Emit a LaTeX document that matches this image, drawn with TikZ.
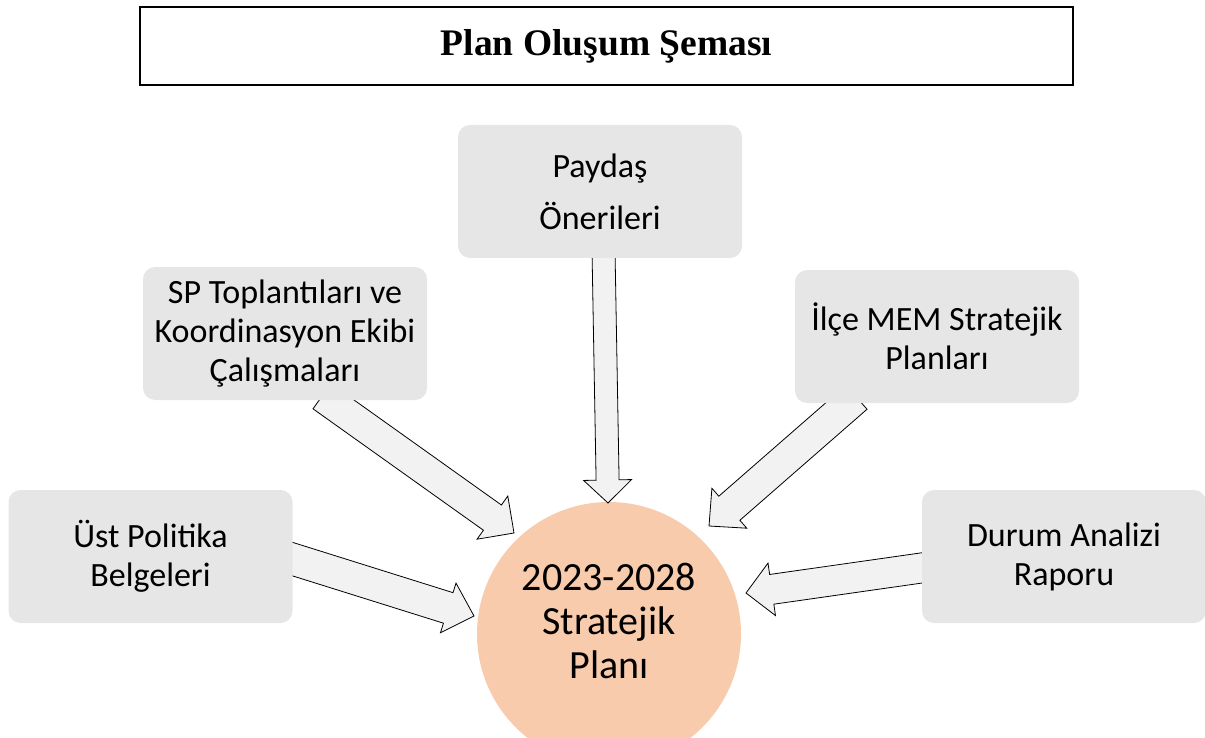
\documentclass[tikz,border=0pt]{standalone}
\usepackage{fontspec}
\setmainfont{Carlito}
\newfontfamily\titlefont{Liberation Serif}
\usetikzlibrary{calc}
\pgfdeclarelayer{bg}
\pgfsetlayers{bg,main}
\definecolor{boxgray}{HTML}{E6E6E6}
\definecolor{arrowgray}{HTML}{F2F2F2}
\definecolor{planorange}{HTML}{F8CBAD}
\tikzset{
  srcbox/.style={rectangle, rounded corners=12pt, fill=boxgray, minimum width=284pt,
    minimum height=133pt, align=center, inner sep=0pt,
    font=\fontsize{34}{39}\selectfont},
  blockarrow/.style={draw=black, fill=arrowgray, line width=0.8pt, line join=miter},
  titlebox/.style={draw=black, line width=1.5pt, minimum width=933pt, minimum height=78pt,
    inner sep=0pt, font=\titlefont\bfseries\fontsize{37.5}{40}\selectfont},
  plancircle/.style={circle, fill=planorange, minimum size=264pt, inner sep=0pt},
  plantextsty/.style={align=center, inner sep=0pt, font=\fontsize{40}{44}\selectfont}
}
% #1 start, #2 tip, #3 half shaft width, #4 half head width, #5 head length
\newcommand\blockarr[5]{%
  \coordinate (hb) at ($(#2)!#5!(#1)$);
  \draw[blockarrow] ($(#1)!#3!90:(#2)$) -- ($(hb)!#3!90:(#2)$) -- ($(hb)!#4!90:(#2)$)
    -- (#2) -- ($(hb)!#4!-90:(#2)$) -- ($(hb)!#3!-90:(#2)$) -- ($(#1)!#3!-90:(#2)$) -- cycle;}
\begin{document}
\begin{tikzpicture}[x=1pt,y=-1pt]
\useasboundingbox (0,0) rectangle (1205,738);
\clip (0,0) rectangle (1205,738);
\node[titlebox] (title) at (606.5,46) {Plan Oluşum Şeması};
\node[srcbox] (paydas) at (600,191.5) {Paydaş\\[13pt]Önerileri};
\node[srcbox] (sp) at (285,333.5) {SP Toplantıları ve\\Koordinasyon Ekibi\\Çalışmaları};
\node[srcbox] (ilce) at (937,336.5) {İlçe MEM Stratejik\\Planları};
\node[srcbox] (ust) at (150.5,556.5) {Üst Politika\\Belgeleri};
\node[srcbox] (durum) at (1064,556.5) {Durum Analizi\\Raporu};
\begin{pgfonlayer}{bg}
  \node[plancircle] (plan) at (609,634) {};
  \coordinate (s1) at ($(paydas.south)+(3.5,-8)$);
  \coordinate (t1) at ($(plan.center)+(-1,-131)$);
  \blockarr{s1}{t1}{11.5pt}{24pt}{23pt}
  \coordinate (s2) at ($(sp.south)+(37,-4)$);
  \coordinate (t2) at ($(plan.center)+(-95,-101)$);
  \blockarr{s2}{t2}{15.5pt}{26.5pt}{26.5pt}
  \coordinate (s3) at ($(ilce.south)+(-80.5,-6)$);
  \coordinate (t3) at ($(plan.center)+(100,-108)$);
  \blockarr{s3}{t3}{16pt}{26.5pt}{27pt}
  \coordinate (s4) at ($(ust.east)+(-8.5,0)$);
  \coordinate (t4) at ($(plan.center)+(-135,-18)$);
  \blockarr{s4}{t4}{16pt}{26pt}{27pt}
  \coordinate (s5) at ($(durum.west)+(10,10)$);
  \coordinate (t5) at ($(plan.center)+(137,-41)$);
  \blockarr{s5}{t5}{15pt}{26.5pt}{26pt}
\end{pgfonlayer}
\node[plantextsty] (plantext) at ($(plan.center)+(0,-13)$) {2023-2028\\Stratejik\\Planı};
\end{tikzpicture}
\end{document}
